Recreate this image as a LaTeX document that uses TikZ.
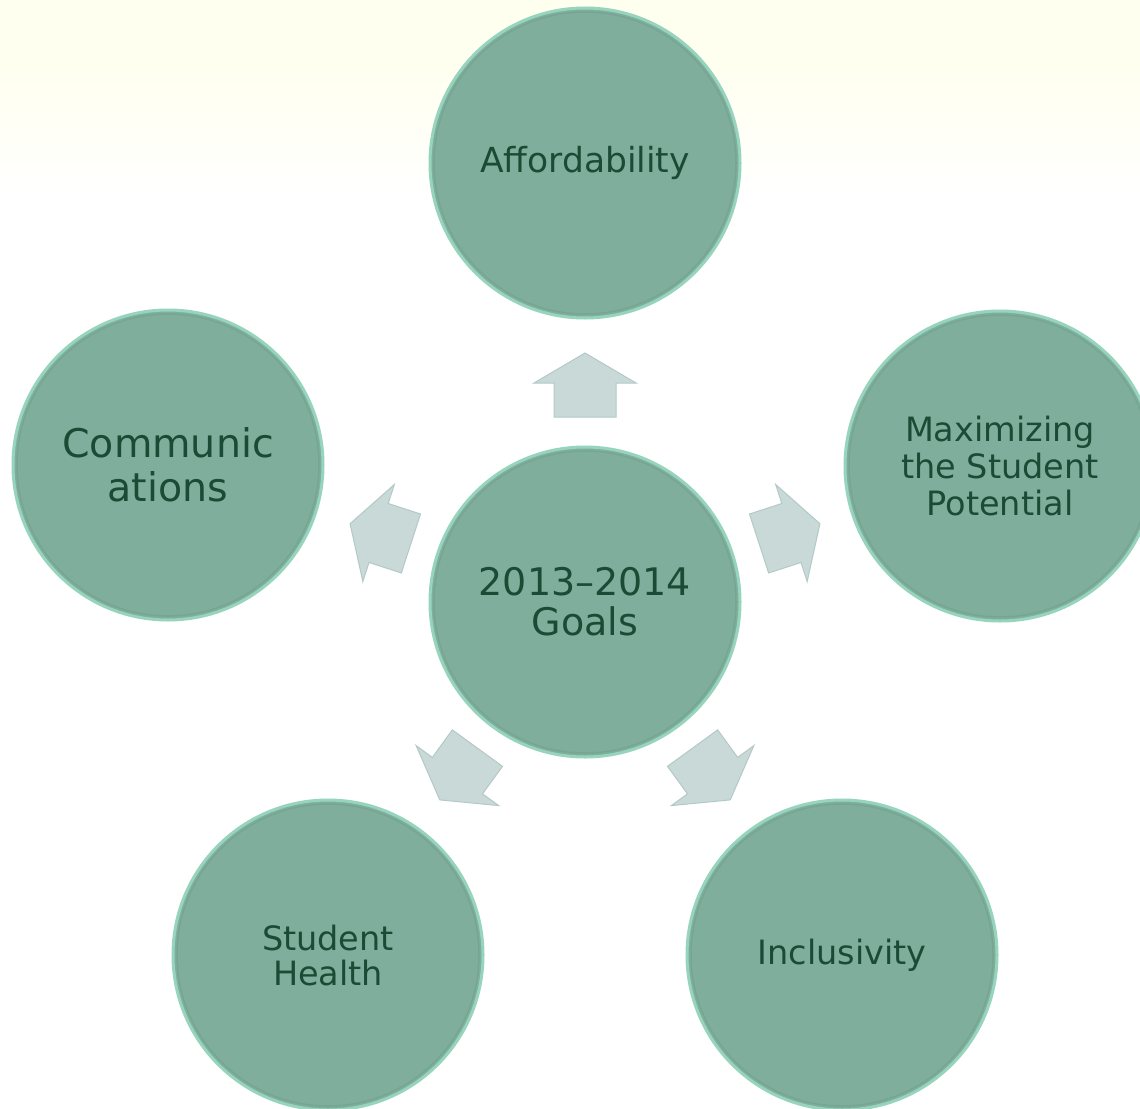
\documentclass[tikz,border=0pt]{standalone}
\usepackage{fontspec}
\setmainfont{DejaVu Sans}
\definecolor{bgy}{HTML}{FFFFF0}
\definecolor{circfill}{HTML}{7FAF9C}
\definecolor{circrim}{HTML}{96D4BE}
\definecolor{circdark}{HTML}{6F9E8B}
\definecolor{txt}{HTML}{1C4A34}
\definecolor{arrfill}{HTML}{C9D9D8}
\definecolor{arredge}{HTML}{B2C9C7}
\tikzset{
  goal/.style={circle, minimum size=310pt, inner sep=0pt, fill=circfill, draw=circrim, line width=3pt, text=txt, align=center},
  blockarrow/.style={fill=arrfill, draw=arredge, line width=1pt, line join=miter},
}
\newcommand{\blockarr}[3]{%
  \begin{scope}[shift={(#1,#2)}, rotate=#3]
    \path[blockarrow] (0,-32) -- (51,-2) -- (31,-2) -- (31,32) -- (-31,32) -- (-31,-2) -- (-51,-2) -- cycle;
  \end{scope}}
\begin{document}
\begin{tikzpicture}[x=1pt, y=-1pt]
\useasboundingbox (0,0) rectangle (1140,1108);
\clip (0,0) rectangle (1140,1108);
\fill[white] (0,0) rectangle (1140,1108);
\fill[bgy] (0,0) rectangle (1140,70);
\shade[top color=bgy, bottom color=white] (0,70) rectangle (1140,200);

\node[goal, font=\fontsize{38}{40}\selectfont] (c) at (585,602) {2013--2014\\Goals};
\node[goal, font=\fontsize{34.5}{37}\selectfont] (top) at (585,163) {Affordability};
\node[goal, font=\fontsize{33.5}{37}\selectfont] (right) at (1000,466) {Maximizing\\the Student\\Potential};
\node[goal, font=\fontsize{39.5}{44}\selectfont] (left) at (168,465) {Communic\\ations};
\node[goal, font=\fontsize{33.5}{35}\selectfont] (bl) at (328,955) {Student\\Health};
\node[goal, font=\fontsize{33.5}{35}\selectfont] (br) at (842,955) {Inclusivity};

\foreach \n in {c,top,right,left,bl,br}{
  \draw[circdark, line width=1.5pt, opacity=0.5] (\n.center) circle (151pt);
}

\blockarr{585}{385}{0}
\blockarr{789.5}{533.6}{-72}
\blockarr{380.5}{533.6}{72}
\blockarr{711.4}{774}{-144}
\blockarr{458.6}{774}{144}
\end{tikzpicture}
\end{document}
